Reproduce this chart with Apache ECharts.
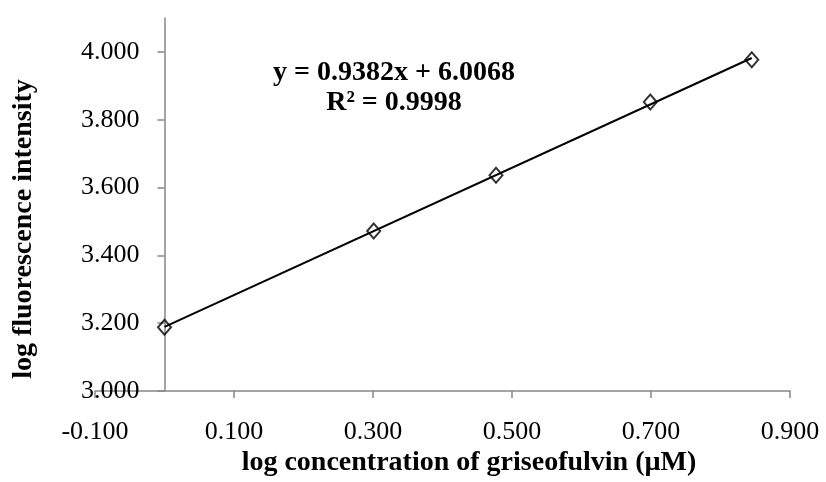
<!DOCTYPE html>
<html><head><meta charset="utf-8">
<script src="https://cdn.jsdelivr.net/npm/echarts@6/dist/echarts.min.js"></script>
<style>html,body{margin:0;padding:0;background:#fff}#c{width:826px;height:482px}</style>
</head><body><div id="c"></div>
<script>
const logConc = [0, 0.301, 0.477, 0.699, 0.845];
const logFluor = [3.188, 3.472, 3.636, 3.852, 3.977];
const trendX = [0, 0.845];
const trendY = [3.189, 3.982];
const yTicks = [3.0, 3.2, 3.4, 3.6, 3.8, 4.0];
const xTicks = [-0.1, 0.1, 0.3, 0.5, 0.7, 0.9];
const eqLine1 = 'y = 0.9382x + 6.0068';
const eqLine2 = 'R² = 0.9998';
const xTitle = 'log concentration of griseofulvin (µM)';
const yTitle = 'log fluorescence intensity';

const font = '"Liberation Serif", "Times New Roman", serif';
const axisColor = '#878787';
const gridLeft = 95, gridRight = 36;
const plotW = 826 - gridLeft - gridRight;
const chart = echarts.init(document.getElementById('c'));
chart.setOption({
  animation: false,
  grid: {left: gridLeft, right: gridRight, top: 18, bottom: 91, containLabel: false},
  xAxis: {
    type: 'value', min: -0.1, max: 0.9, interval: 0.2,
    splitLine: {show: false},
    axisLine: {show: true, onZero: false, lineStyle: {color: axisColor, width: 1.5}},
    axisTick: {show: true, length: 7, inside: false, customValues: xTicks, lineStyle: {color: axisColor, width: 1.5}},
    axisLabel: {customValues: xTicks, margin: 28, color: '#000', fontFamily: font, fontSize: 26,
      formatter: v => Number(v).toFixed(3)}
  },
  yAxis: {
    type: 'value', min: 3.0, max: 4.1, interval: 0.2,
    offset: -plotW * 0.1,
    splitLine: {show: false},
    axisLine: {show: true, onZero: false, lineStyle: {color: axisColor, width: 1.5}},
    axisTick: {show: true, length: 7, customValues: yTicks, lineStyle: {color: axisColor, width: 1.5}},
    axisLabel: {customValues: yTicks, margin: 25, color: '#000', fontFamily: font, fontSize: 26,
      formatter: v => Number(v).toFixed(3)}
  },
  series: [
    {
      type: 'scatter', data: logConc.map((x, i) => [x, logFluor[i]]),
      symbol: 'diamond', symbolSize: [13, 15],
      itemStyle: {color: 'rgba(255,255,255,0)', borderColor: '#000', borderWidth: 2}, z: 2
    },
    {
      type: 'line', data: trendX.map((x, i) => [x, trendY[i]]),
      symbol: 'none', lineStyle: {color: '#000', width: 2}, z: 3, silent: true
    }
  ],
  graphic: [
    {type: 'text', style: {text: eqLine1, x: 394, y: 73, align: 'center', verticalAlign: 'middle',
      font: 'bold 28px ' + font, fill: '#000'}},
    {type: 'text', style: {text: eqLine2, x: 394, y: 103, align: 'center', verticalAlign: 'middle',
      font: 'bold 28px ' + font, fill: '#000'}},
    {type: 'text', style: {text: xTitle, x: 469, y: 463, align: 'center', verticalAlign: 'middle',
      font: 'bold 28px ' + font, fill: '#000'}},
    {type: 'text', x: 24, y: 229, rotation: Math.PI / 2, style: {text: yTitle, x: 0, y: 0, align: 'center', verticalAlign: 'middle',
      font: 'bold 28px ' + font, fill: '#000'}}
  ]
});
</script></body></html>
